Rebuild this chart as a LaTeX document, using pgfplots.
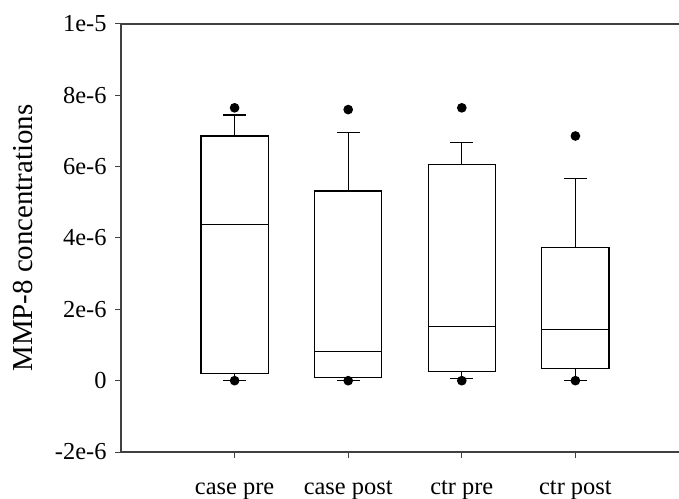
\documentclass[border=0pt]{standalone}
\usepackage{fontspec}
\setmainfont{Liberation Serif}
\usepackage{pgfplots}
\pgfplotsset{compat=1.18}
\usepgfplotslibrary{statistics}
% values in units of 1e-6
\begin{document}
\begin{tikzpicture}
\path[use as bounding box] (-121bp,-47bp) rectangle (558bp,452bp);
\begin{axis}[
  at={(0,0)}, anchor=south west,
  scale only axis, width=558bp, height=428bp,
  xmin=0, xmax=4.912, ymin=-2, ymax=10,
  axis x line*=box, axis y line*=left,
  axis line style={-, line width=1.4bp, black!75},
  tick align=outside, xtick pos=left, ytick pos=left,
  major tick length=6bp,
  tick style={line width=1bp, black!75},
  xtick={1,2,3,4}, xticklabels={case pre, case post, ctr pre, ctr post},
  ytick={-2,0,2,4,6,8,10},
  yticklabels={-2e-6,0,2e-6,4e-6,6e-6,8e-6,1e-5},
  tick label style={font=\fontsize{24.5}{29}\selectfont},
  yticklabel style={xshift=-5bp},
  xticklabel style={anchor=base, yshift=-36bp},
  ylabel={MMP-8 concentrations},
  ylabel style={font=\fontsize{29}{34}\selectfont, at={(axis description cs:-0.1756,0.5)}, anchor=center},
  clip=false,
  boxplot/draw direction=y,
]
\addplot[black, line width=1.2bp, mark=*, mark size=4.2bp, mark options={fill=black},
  boxplot prepared={draw position=1, lower whisker=0, lower quartile=0.2,
  median=4.37, upper quartile=6.86, upper whisker=7.45,
  box extend=0.59, whisker extend=0.2}]
  coordinates {(0,7.65) (0,0)};
\addplot[black, line width=1.2bp, mark=*, mark size=4.2bp, mark options={fill=black},
  boxplot prepared={draw position=2, lower whisker=0, lower quartile=0.08,
  median=0.81, upper quartile=5.32, upper whisker=6.95,
  box extend=0.59, whisker extend=0.2}]
  coordinates {(0,7.6) (0,0)};
\addplot[black, line width=1.2bp, mark=*, mark size=4.2bp, mark options={fill=black},
  boxplot prepared={draw position=3, lower whisker=0.05, lower quartile=0.25,
  median=1.51, upper quartile=6.05, upper whisker=6.67,
  box extend=0.59, whisker extend=0.2}]
  coordinates {(0,7.65) (0,0)};
\addplot[black, line width=1.2bp, mark=*, mark size=4.2bp, mark options={fill=black},
  boxplot prepared={draw position=4, lower whisker=0, lower quartile=0.34,
  median=1.43, upper quartile=3.73, upper whisker=5.66,
  box extend=0.59, whisker extend=0.2}]
  coordinates {(0,6.86) (0,0)};
\end{axis}
\end{tikzpicture}
\end{document}
